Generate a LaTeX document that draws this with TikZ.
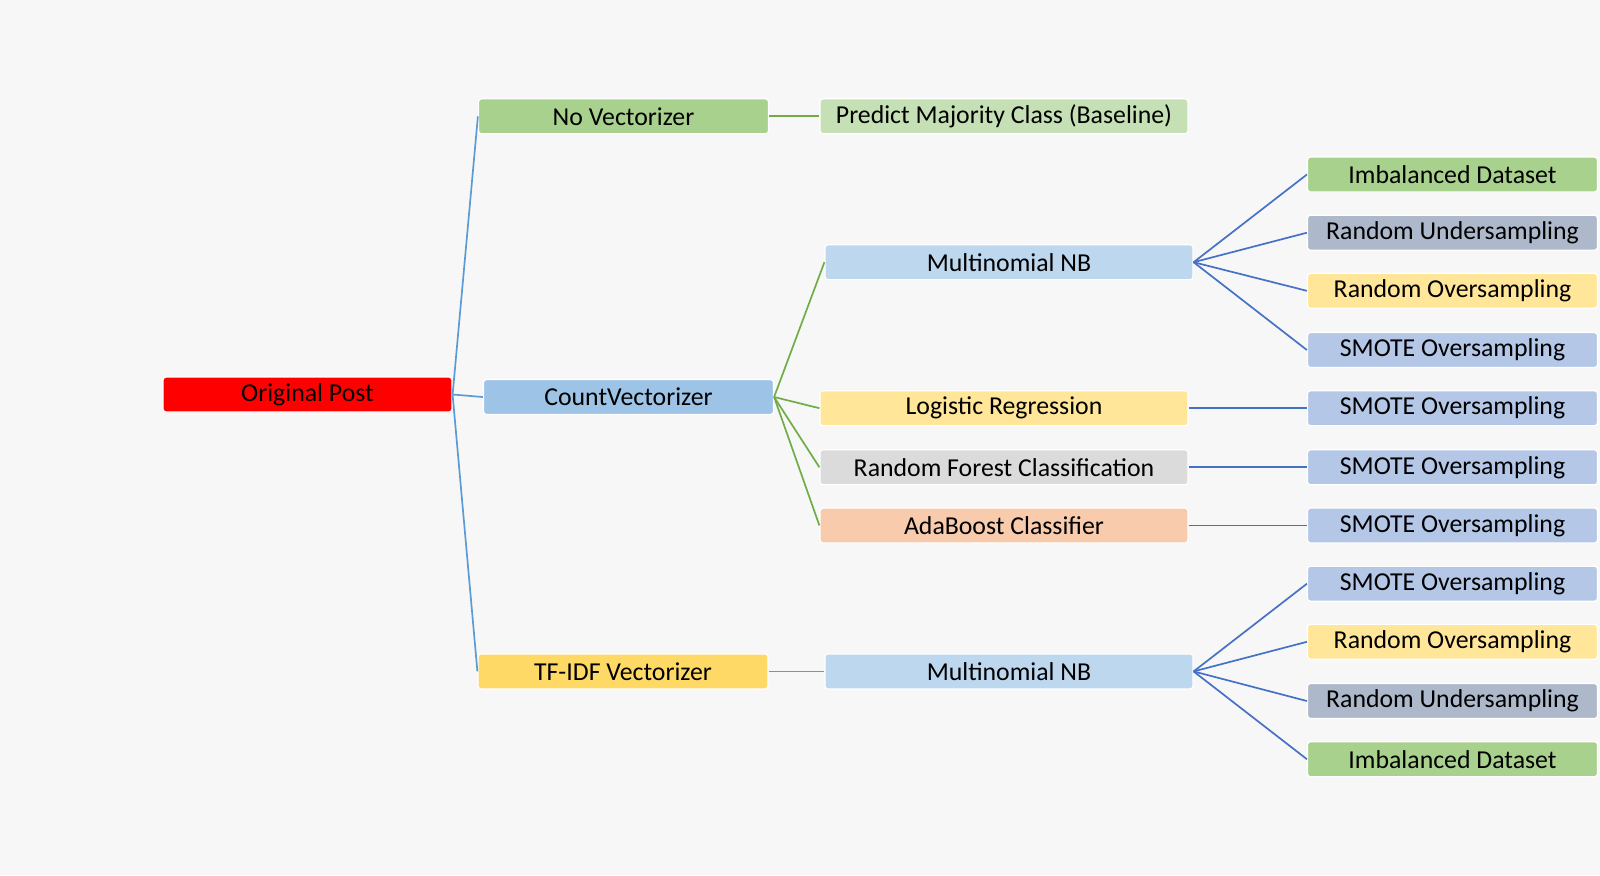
\documentclass[tikz,border=0pt]{standalone}
\usepackage{fontspec}
\setmainfont{Carlito}
\definecolor{bg}{HTML}{F7F7F7}
\definecolor{cRed}{HTML}{FF0000}
\definecolor{cGreen}{HTML}{A9D18E}
\definecolor{cLGreen}{HTML}{C5E0B4}
\definecolor{cCount}{HTML}{9DC3E6}
\definecolor{cTfidf}{HTML}{FFD966}
\definecolor{cMNB}{HTML}{BDD7EE}
\definecolor{cYellow}{HTML}{FFE699}
\definecolor{cGray}{HTML}{DBDBDB}
\definecolor{cOrange}{HTML}{F8CBAD}
\definecolor{cUnder}{HTML}{ADB9CA}
\definecolor{cSmote}{HTML}{B4C7E7}
\definecolor{lBlue}{HTML}{5B9BD5}
\definecolor{lGreen}{HTML}{70AD47}
\definecolor{lDark}{HTML}{4472C4}
\begin{document}
\begin{tikzpicture}[x={(0.5pt,0)}, y={(0,-0.5pt)},
  box/.style={draw=white, line width=0.6pt, rounded corners=1.5pt, minimum height=17.5pt,
    inner sep=0pt, font=\fontsize{12.9}{15}\selectfont, text=black},
  wA/.style={box, minimum width=145pt},
  wB/.style={box, minimum width=184pt},
  lb/.style={draw=lBlue, line width=0.85pt},
  lg/.style={draw=lGreen, line width=0.85pt},
  ld/.style={draw=lDark, line width=0.85pt}]
\fill[bg] (0,0) rectangle (1600,875);
\useasboundingbox (0,0) rectangle (1600,875);
% level 0
\node[box, minimum width=144.5pt, fill=cRed] (op) at (307.5,394.5) {Original Post};
% level 1
\node[wA, fill=cGreen] (nv) at (623.5,116.3) {No Vectorizer};
\node[wA, fill=cCount] (cv) at (628.5,397) {CountVectorizer};
\node[wA, fill=cTfidf] (tf) at (623,671.4) {TF-IDF Vectorizer};
% level 2
\node[wB, fill=cLGreen] (pm) at (1004,116.3) {Predict Majority Class (Baseline)};
\node[wB, fill=cMNB] (mn1) at (1009,262.2) {Multinomial NB};
\node[wB, fill=cYellow] (lr) at (1004,408.2) {Logistic Regression};
\node[wB, fill=cGray] (rf) at (1004,467.3) {Random Forest Classification};
\node[wB, fill=cOrange] (ab) at (1004,525.5) {AdaBoost Classifier};
\node[wB, fill=cMNB] (mn2) at (1009,671.4) {Multinomial NB};
% level 3
\node[wA, fill=cGreen] (r1) at (1452.5,174.5) {Imbalanced Dataset};
\node[wA, fill=cUnder] (r2) at (1452.5,232.7) {Random Undersampling};
\node[wA, fill=cYellow] (r3) at (1452.5,290.8) {Random Oversampling};
\node[wA, fill=cSmote] (r4) at (1452.5,350) {SMOTE Oversampling};
\node[wA, fill=cSmote] (r5) at (1452.5,408.2) {SMOTE Oversampling};
\node[wA, fill=cSmote] (r6) at (1452.5,467.3) {SMOTE Oversampling};
\node[wA, fill=cSmote] (r7) at (1452.5,525.5) {SMOTE Oversampling};
\node[wA, fill=cSmote] (r8) at (1452.5,583.7) {SMOTE Oversampling};
\node[wA, fill=cYellow] (r9) at (1452.5,641.8) {Random Oversampling};
\node[wA, fill=cUnder] (r10) at (1452.5,701) {Random Undersampling};
\node[wA, fill=cGreen] (r11) at (1452.5,759.2) {Imbalanced Dataset};
% connectors
\draw[lb] (op.east) -- (nv.west);
\draw[lb] (op.east) -- (cv.west);
\draw[lb] (op.east) -- (tf.west);
\draw[lg] (nv.east) -- (pm.west);
\draw[lg] (cv.east) -- (mn1.west);
\draw[lg] (cv.east) -- (lr.west);
\draw[lg] (cv.east) -- (rf.west);
\draw[lg] (cv.east) -- (ab.west);
\draw[lg] (tf.east) -- (mn2.west);
\foreach \t in {r1,r2,r3,r4} \draw[ld] (mn1.east) -- (\t.west);
\draw[ld] (lr.east) -- (r5.west);
\draw[ld] (rf.east) -- (r6.west);
\draw[ld] (ab.east) -- (r7.west);
\foreach \t in {r8,r9,r10,r11} \draw[ld] (mn2.east) -- (\t.west);
\end{tikzpicture}
\end{document}
